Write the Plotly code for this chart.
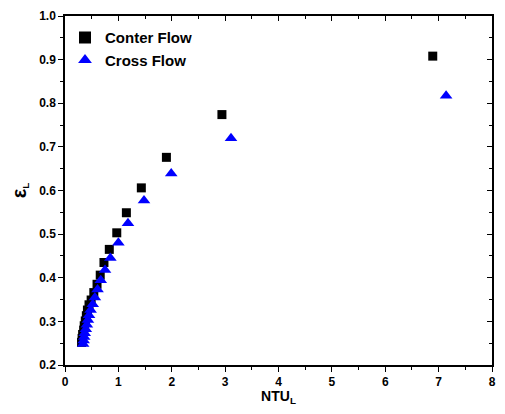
import plotly.graph_objects as go

counter_x = [0.31, 0.32, 0.33, 0.35, 0.36, 0.38, 0.40, 0.42, 0.45, 0.49, 0.54, 0.60, 0.66, 0.73, 0.83, 0.97, 1.15, 1.43, 1.90, 2.94, 6.89]
counter_y = [0.252, 0.261, 0.270, 0.280, 0.290, 0.301, 0.313, 0.326, 0.338, 0.349, 0.366, 0.385, 0.406, 0.435, 0.465, 0.503, 0.549, 0.606, 0.676, 0.774, 0.908]

cross_x = [0.34, 0.35, 0.36, 0.37, 0.39, 0.41, 0.43, 0.45, 0.48, 0.52, 0.56, 0.61, 0.67, 0.75, 0.85, 1.00, 1.18, 1.48, 1.99, 3.11, 7.14]
cross_y = [0.248, 0.256, 0.264, 0.273, 0.282, 0.292, 0.303, 0.314, 0.326, 0.339, 0.355, 0.373, 0.394, 0.418, 0.445, 0.480, 0.525, 0.577, 0.639, 0.720, 0.817]

x_range = [0, 8]
y_range = [0.2, 1.0]

FONT = "Liberation Sans"

fig = go.Figure()
fig.add_trace(go.Scatter(x=counter_x, y=counter_y, mode="markers", name="<b>Conter Flow</b>",
                         marker=dict(symbol="square", size=9, color="black")))
fig.add_trace(go.Scatter(x=cross_x, y=cross_y, mode="markers", name="<b>Cross Flow</b>",
                         marker=dict(symbol="triangle-up", size=11, color="#0000FF")))
# invisible trace on the mirrored axes so they render
fig.add_trace(go.Scatter(x=[x_range[0]], y=[y_range[0]], xaxis="x2", yaxis="y2", mode="markers",
                         marker=dict(opacity=0), showlegend=False, hoverinfo="skip"))

axis_common = dict(showgrid=False, zeroline=False, showline=True, linecolor="black", linewidth=1.5,
                   ticklen=5, tickwidth=1, tickcolor="black", automargin=False, tickmode="linear")

fig.update_layout(
    width=489, height=398,
    margin=dict(l=57, r=5, t=8, b=41),
    paper_bgcolor="white", plot_bgcolor="white",
    font=dict(family=FONT, color="black"),
    showlegend=True,
    legend=dict(x=0.0, y=0.985, xanchor="left", yanchor="top", bgcolor="rgba(0,0,0,0)",
                font=dict(family=FONT, size=15, color="black"), itemsizing="constant",
                tracegroupgap=0),
    xaxis=dict(range=x_range, tick0=0, dtick=1, ticklabeloverflow="allow",
               ticks="outside", tickfont=dict(size=12, family=FONT, weight="bold"),
               minor=dict(dtick=0.5, ticks="outside", ticklen=3, tickcolor="black"),
               title=dict(text="<b>NTU<sub>L</sub></b>", font=dict(size=14, family=FONT), standoff=4),
               **axis_common),
    yaxis=dict(range=y_range, tick0=0.2, dtick=0.1, tickformat=".1f",
               ticks="outside", tickfont=dict(size=12, family=FONT, weight="bold"),
               minor=dict(dtick=0.05, ticks="outside", ticklen=3, tickcolor="black"),
               title=dict(text="<b><span style='font-size:20px'>ε</span><sub>L</sub></b>",
                          font=dict(size=14, family=FONT), standoff=12),
               **axis_common),
    xaxis2=dict(range=x_range, overlaying="x", side="top", anchor="y2", tick0=0, dtick=1,
                showticklabels=False, ticks="inside",
                minor=dict(dtick=0.5, ticks="inside", ticklen=3, tickcolor="black"),
                **axis_common),
    yaxis2=dict(range=y_range, overlaying="y", side="right", anchor="x2", tick0=0.2, dtick=0.1,
                showticklabels=False, ticks="inside",
                minor=dict(dtick=0.05, ticks="inside", ticklen=3, tickcolor="black"),
                **axis_common),
)

fig.write_html("out.html")
